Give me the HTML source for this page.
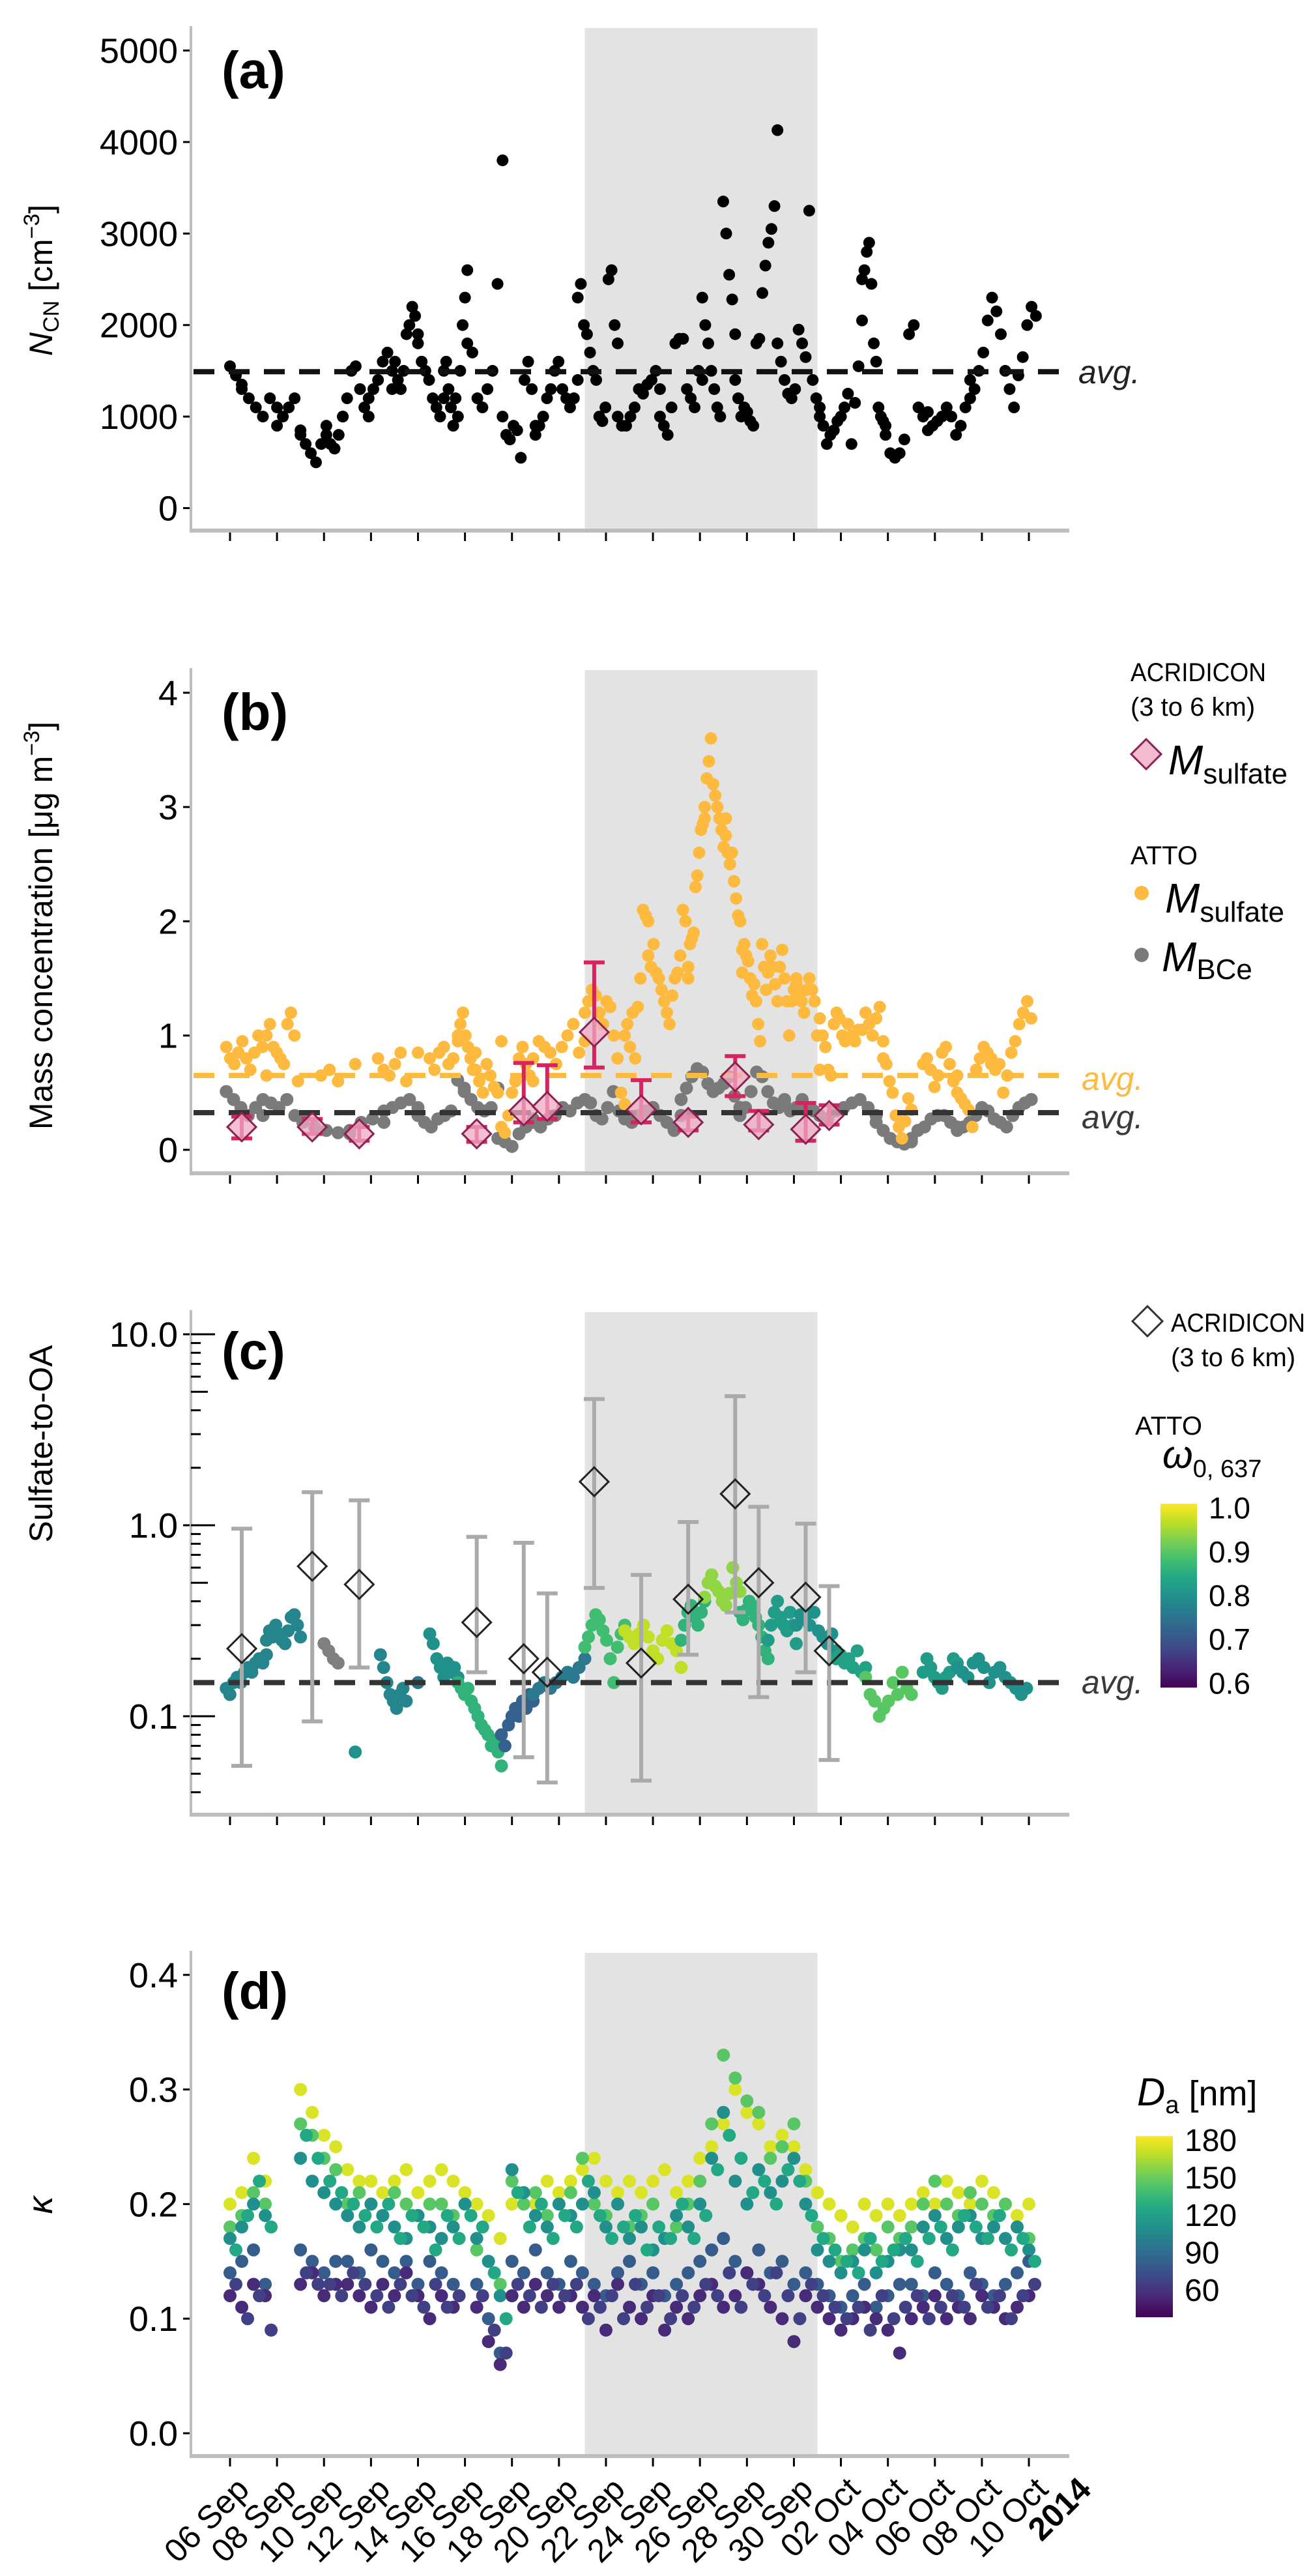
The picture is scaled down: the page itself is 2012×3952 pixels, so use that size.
<!DOCTYPE html>
<html><head><meta charset="utf-8"><style>
html,body{margin:0;padding:0;background:#fff}
svg{display:block;font-family:"Liberation Sans",sans-serif}
</style></head><body>
<svg id="fig" width="2012" height="3952" viewBox="0 0 2012 3952" xmlns="http://www.w3.org/2000/svg">
<defs>
<linearGradient id="vir" x1="0" y1="1" x2="0" y2="0">
<stop offset="0" stop-color="#440154"/><stop offset="0.1" stop-color="#482475"/><stop offset="0.2" stop-color="#414487"/><stop offset="0.3" stop-color="#355f8d"/><stop offset="0.4" stop-color="#2a788e"/><stop offset="0.5" stop-color="#21918c"/><stop offset="0.6" stop-color="#22a884"/><stop offset="0.7" stop-color="#44bf70"/><stop offset="0.8" stop-color="#7ad151"/><stop offset="0.9" stop-color="#bddf26"/><stop offset="1" stop-color="#fde725"/>
</linearGradient>
</defs>
<g id="layer"></g>
<text x="340" y="135" font-size="80" font-weight="bold">(a)</text>
<text x="340" y="1120" font-size="80" font-weight="bold">(b)</text>
<text x="340" y="2100" font-size="80" font-weight="bold">(c)</text>
<text x="340" y="3082" font-size="80" font-weight="bold">(d)</text>

<text transform="translate(80,430) rotate(-90)" text-anchor="middle" font-size="50"><tspan font-style="italic">N</tspan><tspan font-size="34" dy="10">CN</tspan><tspan dy="-10"> [cm</tspan><tspan font-size="34" dy="-20">−3</tspan><tspan dy="20">]</tspan></text>
<text transform="translate(80,1420) rotate(-90)" text-anchor="middle" font-size="50">Mass concentration  [μg m<tspan font-size="34" dy="-20">−3</tspan><tspan dy="20">]</tspan></text>
<text transform="translate(80,2215) rotate(-90)" text-anchor="middle" font-size="50">Sulfate-to-OA</text>
<text transform="translate(80,3383) rotate(-90)" text-anchor="middle" font-size="54" font-style="italic">κ</text>

<text x="1655" y="588" font-size="50" font-style="italic" fill="#222">avg.</text>
<text x="1660" y="1672" font-size="50" font-style="italic" fill="#fdba3f">avg.</text>
<text x="1660" y="1731" font-size="50" font-style="italic" fill="#3a3a3a">avg.</text>
<text x="1660" y="2598" font-size="50" font-style="italic" fill="#3a3a3a">avg.</text>

<text x="1735" y="1045" font-size="40" textLength="208" lengthAdjust="spacingAndGlyphs">ACRIDICON</text>
<text x="1735" y="1098" font-size="40">(3 to 6 km)</text>
<polygon points="1736,1157 1759,1134 1782,1157 1759,1180" fill="#f3bccf" stroke="#8b2252" stroke-width="3"/>
<text x="1793" y="1188" font-size="64" font-style="italic">M<tspan font-style="normal" font-size="44" dy="14">sulfate</tspan></text>
<text x="1735" y="1326" font-size="40">ATTO</text>
<circle cx="1752" cy="1370" r="11" fill="#fdba3f"/>
<text x="1788" y="1400" font-size="64" font-style="italic">M<tspan font-style="normal" font-size="44" dy="14">sulfate</tspan></text>
<circle cx="1752" cy="1465" r="11" fill="#7a7a7a"/>
<text x="1783" y="1490" font-size="64" font-style="italic">M<tspan font-style="normal" font-size="44" dy="12">BCe</tspan></text>

<polygon points="1738,2027 1761,2004 1784,2027 1761,2050" fill="#fff" stroke="#333" stroke-width="3"/>
<text x="1797" y="2043" font-size="40" textLength="206" lengthAdjust="spacingAndGlyphs">ACRIDICON</text>
<text x="1797" y="2096" font-size="40">(3 to 6 km)</text>
<text x="1742" y="2201" font-size="40">ATTO</text>
<text x="1784" y="2252" font-size="60" font-style="italic">ω<tspan font-style="normal" font-size="38" dy="14">0, 637</tspan></text>
<rect x="1781" y="2307" width="56" height="282" fill="url(#vir)"/>

<text x="1745" y="3230" font-size="60" font-style="italic">D<tspan font-style="normal" font-size="38" dy="12">a</tspan><tspan font-style="normal" font-size="54" dy="-12">  [nm]</tspan></text>
<rect x="1743" y="3277" width="57" height="278" fill="url(#vir)"/>
</svg>
<script>
const svgNS = "http://www.w3.org/2000/svg";
const layer = document.getElementById("layer");
function mk(tag, attrs, parent) {
  const e = document.createElementNS(svgNS, tag);
  for (const k in attrs) e.setAttribute(k, attrs[k]);
  (parent || layer).appendChild(e);
  return e;
}
const X0 = 353, PX_PER_DAY = 36.06;
function xDay(t) { return X0 + PX_PER_DAY * t; }
const viridis = ["#440154","#482475","#414487","#355f8d","#2a788e","#21918c","#22a884","#44bf70","#7ad151","#bddf26","#fde725"];
function hex2rgb(h){return [parseInt(h.substr(1,2),16),parseInt(h.substr(3,2),16),parseInt(h.substr(5,2),16)];}
function vir(f){ f=Math.max(0,Math.min(1,f)); const p=f*10, i=Math.min(9,Math.floor(p)), r=p-i; const a=hex2rgb(viridis[i]), b=hex2rgb(viridis[i+1]); return "rgb("+a.map((v,k)=>Math.round(v+(b[k]-v)*r)).join(",")+")"; }

const tickLabels = ["06 Sep","08 Sep","10 Sep","12 Sep","14 Sep","16 Sep","18 Sep","20 Sep","22 Sep","24 Sep","26 Sep","28 Sep","30 Sep","02 Oct","04 Oct","06 Oct","08 Oct","10 Oct"];
const tickDays = [0,2,4,6,8,10,12,14,16,18,20,22,24,26,28,30,32,34];
const shadeDays = [15.1, 25.0];

const aSegStart = [0,0.5,2.0,3.0,4.1,4.8,5.9,6.9,8.0,9.1,10.1,11.6,13.0,14.8,16.5,18.3,20.1,21.5,23.3,25.1,26.9,27.9,29.7,31.5];
const aSegEnd   = [0.5,2.0,3.0,4.1,4.8,5.9,6.9,8.0,9.1,10.1,11.6,13.0,14.8,16.5,18.3,20.1,21.5,23.3,25.1,26.9,27.9,29.7,31.5,34.3];
const aSegVals = [
 [1550,1450,1350],
 [1300,1200,1100,1000,1200,1100],
 [900,1000,1100,1200,850],
 [800,700,600,500,700,800],
 [900,700,650,800,1000],
 [1000,1200,1500,1550,1300,1100,1000],
 [1200,1300,1400,1600,1700,1300],
 [1500,1600,1400,1300,1500,1900,2000,2200,2100,1900],
 [1800,1600,1500,1400,1200,1100,1000,1200],
 [1500,1600,1300,1100,900,1200,1000,1500,2000,2300,2600],
 [1800,1700,1200,1100,1300,1500,2450,3800],
 [1000,800,750,900,850,550,1400,1600,1300,900],
 [800,900,1000,1200,1300,1500,1600,1300,1200,1100,1200,1400],
 [2300,2450,2000,1900,1700,1500,1400,1000,950,1100,2500,2600,2000,1800],
 [1000,900,900,1000,1100,1300,1250,1350,1400,1500,1300],
 [1000,900,800,1100,1800,1850,1850,1300,1200,1100,1500,1400],
 [2300,2000,1800,1500,1300,1100,1000,3350,3000,2550,2280,1900],
 [1400,1200,1000,1100,1050,950,900,1800,1850,2350,2650,2900,3050,3300,4130],
 [1800,1600,1400,1250,1200,1300,1950,1800,1650,3250,1400,1200,1000],
 [1100,900,700,800,850,950,1000,1100,1250,700,1150,1550,2050],
 [2500,2600,2800,2900,2450,1800,1600,1100,1000,950,900],
 [800,600,550,600,750,1900,2000,1100,1000,1050],
 [850,900,950,1000,1100,1000,800,900,1100,1400],
 [1200,1300,1500,1700,2050,2300,2150,1900,1500,1300,1100,1450,1650,2000,2200,2100]
];
const aAvg = 1490;
const aTicks = [0,1000,2000,3000,4000,5000];

const sulSegStart = [-0.16,1.55,3.87,5.33,6.3,8.0,8.5,9.7,10.45,11.55,12.9,15.1,16.8,17.8,19.5,20.2,21.1,21.8,22.9,24.1,25.1,26.3,27.8,29.5,30.95,32.4];
const sulSegEnd   = [1.55,2.89,4.6,5.33,7.5,8.0,9.7,10.45,11.55,12.9,15.1,16.8,17.8,19.5,20.2,21.1,21.8,22.9,24.1,25.1,26.3,27.8,29.0,30.95,32.4,34.1];
const sulSegVals = [
 [0.9,0.8,0.75,0.85,0.95,0.8,0.7,0.85,1.0,0.9,0.65],
 [1.0,1.1,0.9,0.85,0.8,0.75,1.1,1.2,1.0,0.6],
 [0.65,0.7,0.6],
 [0.75],
 [0.8,0.7,0.65,0.75,0.85,0.6],
 [0.85],
 [0.8,0.7,0.85,0.9,0.75,0.8,0.95],
 [1.0,1.1,1.2,1.0,0.9,0.8,0.7,0.85],
 [0.7,0.6,0.5,0.75,0.65,0.55,0.5,0.95],
 [0.2,0.15,0.3,0.5,0.6,0.8,0.9,0.75,0.65,0.6],
 [0.8,0.95,0.9,0.85,0.75,0.9,1.0,1.1,0.85,0.95],
 [1.2,1.3,1.4,1.35,1.2,1.1,1.3,1.25,1.0,0.8,0.5,0.4],
 [1.0,1.1,0.9,1.2,0.8,1.25,1.5,2.1,2.05,2.0],
 [1.7,1.6,1.8,1.55,1.5,1.4,1.3,1.2,1.1,1.35,1.5,1.55,1.7,2.1,2.0,1.5],
 [1.6,1.8,1.85,1.9,2.3,2.4,2.6,2.8,2.85,2.9],
 [3.0,3.25,3.4,3.6,3.2,3.1,3.0,2.9,2.8,2.65,2.75],
 [2.9,2.6,2.5,2.6,2.35,2.2,2.05,2.0,1.75],
 [1.55,1.8,1.7,1.65,1.5,1.35,1.45,1.3,1.1,0.95,1.8,1.6,1.4,1.6],
 [1.55,1.7,1.6,1.45,1.3,1.6,1.75,1.5,1.3,1.0,1.3,1.4,1.45],
 [1.5,1.35,1.3,1.2,1.4,1.5,1.4,1.3,1.0,0.7],
 [1.15,1.0,0.9,0.7,0.65,1.1,1.2,1.15,1.0,0.95,1.1],
 [1.1,1.0,0.95,1.05,1.05,1.2,1.1,1.0,1.15,1.25,0.95],
 [0.8,0.75,0.6,0.5,0.3,0.2,0.1,0.25,0.45,0.35],
 [0.75,0.8,0.7,0.55,0.65,0.85,0.9,0.75,0.6,0.5],
 [0.65,0.45,0.4,0.35,0.2,0.7,0.8,0.9,0.85,0.75],
 [0.8,0.7,0.75,0.5,0.65,0.85,0.95,1.1,1.2,1.3,1.15]
];
const bceSegStart = [-0.16,1.4,3.1,5.1,6.55,8.0,9.97,11.4,12.9,15.1,16.8,19.2,21.7,23.6,25.1,27.5,29.0,30.95];
const bceSegEnd   = [1.4,3.1,5.1,6.55,8.0,9.97,11.4,12.9,15.1,16.8,19.2,21.7,23.6,25.1,27.5,29.0,30.95,34.1];
const bceSegVals = [
 [0.51,0.44,0.37,0.30,0.37,0.30],
 [0.44,0.41,0.37,0.44,0.30,0.27],
 [0.24,0.20,0.17,0.15,0.14],
 [0.17,0.24,0.27,0.24],
 [0.34,0.37,0.41,0.44,0.37],
 [0.30,0.24,0.20,0.27,0.30,0.34,0.61,0.54],
 [0.51,0.44,0.37,0.34,0.37,0.54],
 [0.10,0.07,0.03,0.14,0.20,0.27],
 [0.24,0.20,0.27,0.30,0.37,0.34,0.41,0.44],
 [0.44,0.41,0.30,0.27,0.37,0.51,0.34,0.30],
 [0.27,0.24,0.30,0.34,0.37,0.30,0.24,0.17,0.30],
 [0.44,0.54,0.64,0.71,0.68,0.58,0.51,0.54,0.58,0.64,0.47,0.37],
 [0.30,0.37,0.51,0.68,0.64,0.51,0.41,0.37,0.44],
 [0.41,0.34,0.37,0.44,0.37,0.34,0.30],
 [0.30,0.27,0.34,0.37,0.41,0.44,0.37,0.30],
 [0.24,0.17,0.10,0.07,0.05,0.07],
 [0.10,0.17,0.20,0.27,0.30,0.30,0.24,0.20],
 [0.17,0.20,0.24,0.30,0.37,0.34,0.27,0.24,0.20,0.30,0.37,0.41,0.44]
];
const acrDays = [0.5,3.5,5.5,10.5,12.5,13.5,15.5,17.5,19.5,21.5,22.5,24.5,25.5];
const acrSul = [0.2,0.2,0.14,0.14,0.34,0.38,1.03,0.35,0.24,0.64,0.22,0.18,0.3];
const acrSulHi = [0.29,0.27,0.2,0.2,0.76,0.74,1.64,0.61,0.29,0.82,0.34,0.41,0.39];
const acrSulLo = [0.10,0.14,0.08,0.07,0.24,0.27,0.72,0.24,0.17,0.47,0.17,0.08,0.22];
const sulAvg = 0.65, bceAvg = 0.325;
const bTicks = [0,1,2,3,4];

const cSegStart = [-0.16,1.55,4.0,5.33,6.4,8.0,8.5,9.7,11.55,12.9,15.1,16.8,19.2,20.2,21.7,22.9,24.1,25.8,27.05,29.5,30.95];
const cSegEnd   = [1.55,3.0,4.6,5.33,7.5,8.0,9.7,11.55,12.9,15.1,16.8,19.2,20.2,21.7,22.9,24.1,25.8,27.05,29.0,30.95,33.9];
const cSegOmega = [0.78,0.78,null,0.8,0.78,0.75,0.8,0.86,0.72,0.76,0.88,0.97,0.86,0.94,0.86,0.82,0.8,0.83,0.9,0.82,0.8];
const cSegVals = [
 [0.14,0.13,0.15,0.16,0.15,0.17,0.18,0.17,0.19,0.2,0.19,0.21],
 [0.25,0.28,0.26,0.3,0.27,0.25,0.24,0.28,0.33,0.34,0.3,0.26],
 [0.24,0.22,0.2,0.19],
 [0.065],
 [0.21,0.18,0.15,0.13,0.12,0.11,0.13,0.14,0.12],
 [0.15],
 [0.27,0.24,0.2,0.18,0.16,0.19,0.17,0.18,0.16],
 [0.15,0.14,0.13,0.14,0.12,0.11,0.1,0.09,0.085,0.08,0.07,0.075,0.065,0.055],
 [0.08,0.07,0.09,0.1,0.11,0.1,0.12,0.11,0.13,0.12],
 [0.13,0.14,0.15,0.14,0.15,0.16,0.17,0.16,0.18,0.2],
 [0.23,0.26,0.3,0.34,0.32,0.28,0.25,0.2,0.15,0.23,0.27,0.3],
 [0.28,0.26,0.24,0.27,0.3,0.26,0.22,0.2,0.25,0.28,0.24,0.22,0.18],
 [0.25,0.3,0.35,0.38,0.33,0.3,0.35,0.4],
 [0.42,0.5,0.55,0.48,0.45,0.4,0.38,0.44,0.6,0.5,0.45],
 [0.35,0.32,0.36,0.4,0.38,0.33,0.3,0.26,0.22,0.2],
 [0.25,0.3,0.35,0.4,0.33,0.3,0.28,0.35,0.3,0.24],
 [0.3,0.34,0.32,0.3,0.35,0.28,0.26,0.24,0.27,0.22],
 [0.2,0.21,0.19,0.2,0.18,0.22,0.17,0.18],
 [0.16,0.13,0.12,0.1,0.11,0.12,0.15,0.13,0.17,0.14,0.13],
 [0.17,0.2,0.18,0.16,0.15,0.14,0.16,0.17,0.2,0.19],
 [0.18,0.17,0.16,0.19,0.2,0.18,0.15,0.17,0.18,0.16,0.15,0.14,0.13,0.14]
];
const acrRatio = [0.226,0.61,0.49,0.31,0.2,0.17,1.69,0.19,0.41,1.46,0.5,0.42,0.22];
const acrRatioHi = [0.96,1.49,1.35,0.87,0.81,0.44,4.58,0.55,1.04,4.74,1.25,1.02,0.48];
const acrRatioLo = [0.055,0.094,0.18,0.17,0.061,0.045,0.47,0.046,0.21,0.35,0.126,0.17,0.059];
const cAvg = 0.15;
const cTickVals = [0.1,1,10];
const cTickLabels = ["0.1","1.0","10.0"];
const omegaTicks = [0.6,0.7,0.8,0.9,1.0];

const dDays = [0,0.5,1,1.5,3,3.5,4,4.5,5,5.5,6,6.5,7,7.5,8,8.5,9,9.5,10,10.5,11,11.5,12,12.5,13,13.5,14,14.5,15,15.5,16,16.5,17,17.5,18,18.5,19,19.5,20,20.5,21,21.5,22,22.5,23,23.5,24,24.5,25,25.5,26,26.5,27,27.5,28,28.5,29,29.5,30,30.5,31,31.5,32,32.5,33,33.5,34];
const dOffsetDays = 0.25;
const dGroupDa = [175,145,110,80,55];
const kYellow = [0.20,0.21,0.24,0.22,0.30,0.28,0.26,0.25,0.23,0.22,0.22,0.21,0.22,0.23,0.21,0.22,0.23,0.22,0.21,0.20,0.19,0.17,0.20,0.21,0.20,0.22,0.21,0.22,0.23,0.24,0.22,0.21,0.22,0.21,0.22,0.23,0.21,0.22,0.24,0.25,0.27,0.30,0.28,0.27,0.25,0.26,0.25,0.23,0.21,0.20,0.19,0.18,0.20,0.19,0.20,0.19,0.20,0.21,0.20,0.22,0.21,0.20,0.22,0.21,0.20,0.19,0.20];
const kGreen  = [0.18,0.19,0.21,0.20,0.27,0.26,0.24,0.23,0.20,0.21,0.20,0.19,0.21,0.20,0.19,0.20,0.20,0.19,null,0.16,0.15,0.13,0.22,0.20,0.21,0.19,0.20,0.21,0.24,0.20,0.19,0.20,0.18,0.19,0.20,0.17,0.18,0.20,0.22,0.27,0.33,0.31,0.29,0.28,0.24,0.25,0.27,0.22,0.18,0.17,0.15,0.16,0.17,0.16,0.18,0.17,0.18,0.20,0.22,0.20,0.19,0.21,0.20,0.19,0.20,0.18,0.17];
const kTeal   = [0.17,0.18,0.20,0.19,0.24,0.22,0.21,0.20,0.19,0.18,0.20,0.19,0.18,0.17,0.19,0.18,0.17,0.18,0.20,0.17,0.15,0.12,0.23,0.21,0.19,0.18,0.20,0.19,0.20,0.21,0.18,0.20,0.17,0.18,0.16,0.17,0.19,0.18,0.20,0.24,0.28,0.22,0.20,0.23,0.21,0.22,0.24,0.20,0.16,0.15,0.14,0.15,0.16,0.14,0.15,0.16,0.16,0.18,0.19,0.17,0.18,0.19,0.17,0.18,0.17,0.18,0.16];
const kBlue   = [0.14,0.15,0.16,0.13,0.16,0.15,0.14,0.15,0.15,0.14,0.16,0.15,0.14,0.15,0.13,0.15,0.14,0.13,null,0.13,0.10,0.07,0.15,0.14,0.16,0.14,0.13,0.15,0.14,0.13,0.12,0.14,0.15,0.13,0.14,0.12,0.13,0.14,0.15,0.16,0.17,0.15,0.14,0.16,0.14,0.15,0.13,0.14,0.13,0.12,0.11,0.12,0.13,0.11,0.12,0.13,0.13,0.12,0.14,0.13,0.12,0.14,0.13,0.12,0.13,0.14,0.15];
const kPurple = [0.12,0.11,0.13,0.12,0.13,0.14,0.12,0.13,0.13,0.12,0.11,0.13,0.12,0.14,0.12,0.10,0.12,0.11,null,0.11,0.08,0.06,0.12,0.11,0.13,0.12,0.11,0.12,0.11,0.12,0.09,0.13,0.11,0.10,0.12,0.09,0.11,0.10,0.12,0.13,0.11,0.12,0.14,0.13,0.11,0.10,0.08,0.12,0.11,0.10,0.09,0.10,0.11,0.10,0.09,0.07,0.10,0.11,0.12,0.10,0.11,0.10,0.12,0.11,0.10,0.11,0.12];
const dOffsetDa = [125,65];
const kMid2   = [0.16,0.19,0.22,0.18,0.26,0.24,0.22,0.21,0.20,0.19,0.18,0.20,0.17,0.19,0.18,0.16,0.19,0.17,0.19,0.18,0.14,0.10,0.21,0.18,0.20,0.17,0.19,0.18,0.22,0.19,0.17,0.18,0.19,0.16,0.18,0.17,0.20,0.17,0.19,0.23,0.26,0.24,0.21,0.22,0.20,0.23,0.22,0.19,0.17,0.16,0.15,0.14,0.17,0.15,0.16,0.17,0.15,0.17,0.18,0.16,0.19,0.18,0.17,0.19,0.16,0.17,0.15];
const kSmall2 = [0.13,0.10,0.12,0.09,0.14,0.13,0.13,0.12,0.14,0.13,0.12,0.11,0.13,0.12,0.11,0.13,0.11,0.12,null,0.12,0.09,0.07,0.13,0.12,0.11,0.13,0.12,0.13,0.10,0.11,0.12,0.10,0.13,0.11,0.12,0.10,0.12,0.11,0.13,0.12,0.14,0.11,0.13,0.12,0.14,0.12,0.10,0.13,0.12,0.11,0.10,0.11,0.09,0.12,0.10,0.11,0.12,0.10,0.11,0.12,0.11,0.13,0.11,0.12,0.10,0.12,0.13];
const dTicks = [0,0.1,0.2,0.3,0.4];
const daTicks = [60,90,120,150,180];

const yA = v => 779.5 - v * 0.1404;
const yB = v => 1764 - 175.3 * v;
const yC = v => 2340 - 293 * Math.log10(v);
const yD = v => 3733 - 1758 * v;
const omegaY = w => 2589 - (w - 0.59) / (1.01 - 0.59) * 282;
const omegaFrac = w => (w - 0.59) / (1.01 - 0.59);
const daY = d => 3555 - (d - 38) / (183 - 38) * 278;
const daFrac = d => (d - 38) / (183 - 38);

const panels = [
  {key:"a", top:43, bottom:814, y:yA, ticks:aTicks, labels:aTicks.map(String)},
  {key:"b", top:1028, bottom:1800, y:yB, ticks:bTicks, labels:bTicks.map(String)},
  {key:"c", top:2013, bottom:2784, y:yC, ticks:cTickVals, labels:cTickLabels},
  {key:"d", top:2996, bottom:3768, y:yD, ticks:dTicks, labels:dTicks.map(v=>v.toFixed(1))}
];
const AXL = 293, AXR = 1641;
panels.forEach(p => {
  const sh = mk("rect",{x:xDay(shadeDays[0]),y:p.top,width:xDay(shadeDays[1])-xDay(shadeDays[0]),height:p.bottom-p.top-3,fill:"#e3e3e3"});
  
  
  const la = mk("line",{x1:AXL,y1:p.top-3,x2:AXL,y2:p.bottom,stroke:"#bdbdbd","stroke-width":4});
  
  
  const ba = mk("line",{x1:AXL-2,y1:p.bottom,x2:AXR,y2:p.bottom,stroke:"#bdbdbd","stroke-width":6});
  
  
  tickDays.forEach((d,i) => {
    const t = mk("line",{x1:xDay(d),y1:p.bottom+3,x2:xDay(d),y2:p.bottom+16,stroke:"#000","stroke-width":3});
    
    
  });
  p.ticks.forEach((v,i) => {
    const yy = p.y(v);
    const t = mk("line",{x1:AXL-12,y1:yy,x2:AXL-2,y2:yy,stroke:"#000","stroke-width":3});
    
    
    const tx = mk("text",{x:AXL-20,y:yy+19,"text-anchor":"end","font-size":54});
    tx.textContent = p.labels[i];
    
    
  });
});
[0.04,0.05,0.06,0.07,0.08,0.09,0.2,0.3,0.4,0.5,0.6,0.7,0.8,0.9,2,3,4,5,6,7,8,9,1,10,0.1].forEach(v => {
  const major = [0.1,1,10].indexOf(v) >= 0, mid = [0.5,5].indexOf(v) >= 0;
  const len = major ? 37 : (mid ? 26 : 15);
  const t = mk("line",{x1:AXL,y1:yC(v),x2:AXL+len,y2:yC(v),stroke:"#000","stroke-width":3});
  
  
});
tickDays.forEach((d,i) => {
  const px = xDay(d) + 32, py = 3822;
  const t = mk("text",{x:px,y:py,"text-anchor":"end","font-size":50,transform:"rotate(-45 "+px+" "+py+")"});
  t.textContent = tickLabels[i];
  
  
});
{
  const px = xDay(36) + 26, py = 3822;
  const t = mk("text",{x:px,y:py,"text-anchor":"end","font-size":50,"font-weight":"bold",transform:"rotate(-45 "+px+" "+py+")"});
  t.textContent = "2014";
  
  
}

function segPoints(starts, ends, vals, cb) {
  vals.forEach((arr, s) => {
    const n = arr.length;
    arr.forEach((v, i) => {
      const t = n > 1 ? starts[s] + (ends[s] - starts[s]) * i / (n - 1) : starts[s];
      cb(t, v, s);
    });
  });
}
function dash(y, color, name) {
  const l = mk("line",{x1:AXL+4,y1:y,x2:AXR,y2:y,stroke:color,"stroke-width":8,"stroke-dasharray":"32 22"});
  
  
}

segPoints(aSegStart, aSegEnd, aSegVals, (t, v) => {
  const c = mk("circle",{cx:xDay(t),cy:yA(v),r:9,fill:"#000"});
  
  
});
dash(yA(aAvg), "#111", "avg-line-a");

segPoints(bceSegStart, bceSegEnd, bceSegVals, (t, v) => {
  const c = mk("circle",{cx:xDay(t),cy:yB(v),r:10,fill:"#7a7a7a"});
  
  
});
segPoints(sulSegStart, sulSegEnd, sulSegVals, (t, v) => {
  const c = mk("circle",{cx:xDay(t),cy:yB(v),r:9.5,fill:"#fdba3f"});
  
  
});
dash(yB(sulAvg), "#fdba3f", "avg-line-sulfate");
dash(yB(bceAvg), "#333", "avg-line-bce");
acrDays.forEach((d, i) => {
  const x = xDay(d);
  const eb = mk("path",{d:"M"+x+","+yB(acrSulHi[i])+"V"+yB(acrSulLo[i])+"M"+(x-16)+","+yB(acrSulHi[i])+"H"+(x+16)+"M"+(x-16)+","+yB(acrSulLo[i])+"H"+(x+16),stroke:"#d8245e","stroke-width":6,fill:"none"});
  
  
  const y = yB(acrSul[i]);
  const dm = mk("polygon",{points:(x-22)+","+y+" "+x+","+(y-22)+" "+(x+22)+","+y+" "+x+","+(y+22),fill:"rgba(240,170,195,0.75)",stroke:"#8b2252","stroke-width":3});
  
  
});

segPoints(cSegStart, cSegEnd, cSegVals, (t, v, s) => {
  const w = cSegOmega[s];
  const c = mk("circle",{cx:xDay(t),cy:yC(v),r:10,fill:w === null ? "#808080" : vir(omegaFrac(w))});
  
  
});
dash(yC(cAvg), "#333", "avg-line-c");
acrDays.forEach((d, i) => {
  const x = xDay(d);
  const eb = mk("path",{d:"M"+x+","+yC(acrRatioHi[i])+"V"+yC(acrRatioLo[i])+"M"+(x-16)+","+yC(acrRatioHi[i])+"H"+(x+16)+"M"+(x-16)+","+yC(acrRatioLo[i])+"H"+(x+16),stroke:"#aaaaaa","stroke-width":6,fill:"none"});
  
  
  const y = yC(acrRatio[i]);
  const dm = mk("polygon",{points:(x-22)+","+y+" "+x+","+(y-22)+" "+(x+22)+","+y+" "+x+","+(y+22),fill:"none",stroke:"#222","stroke-width":3});
  
  
});
omegaTicks.forEach(w => {
  const y = omegaY(w);
  const t = mk("text",{x:1855,y:y+16,"font-size":46});
  t.textContent = w.toFixed(1);
  
  
  const l = mk("path",{d:"M1781,"+y+"h11M1826,"+y+"h11",stroke:"#fff","stroke-width":2});
  
  
});

[kYellow, kGreen, kTeal, kBlue, kPurple].forEach((arr, g) => {
  arr.forEach((k, i) => {
    if (k === null || dDays[i] === undefined) return;
    const c = mk("circle",{cx:xDay(dDays[i]),cy:yD(k),r:10,fill:vir(daFrac(dGroupDa[g]))});
    
    
  });
});
[kMid2, kSmall2].forEach((arr, g) => {
  arr.forEach((k, i) => {
    if (k === null || dDays[i] === undefined) return;
    const c = mk("circle",{cx:xDay(dDays[i] + dOffsetDays),cy:yD(k),r:10,fill:vir(daFrac(dOffsetDa[g]))});
    
    
  });
});
daTicks.forEach(d => {
  const y = daY(d);
  const t = mk("text",{x:1818,y:y+17,"font-size":48});
  t.textContent = String(d);
  
  
  const l = mk("path",{d:"M1743,"+y+"h11M1789,"+y+"h11",stroke:"#fff","stroke-width":2});
  
  
});
</script>
</body></html>
